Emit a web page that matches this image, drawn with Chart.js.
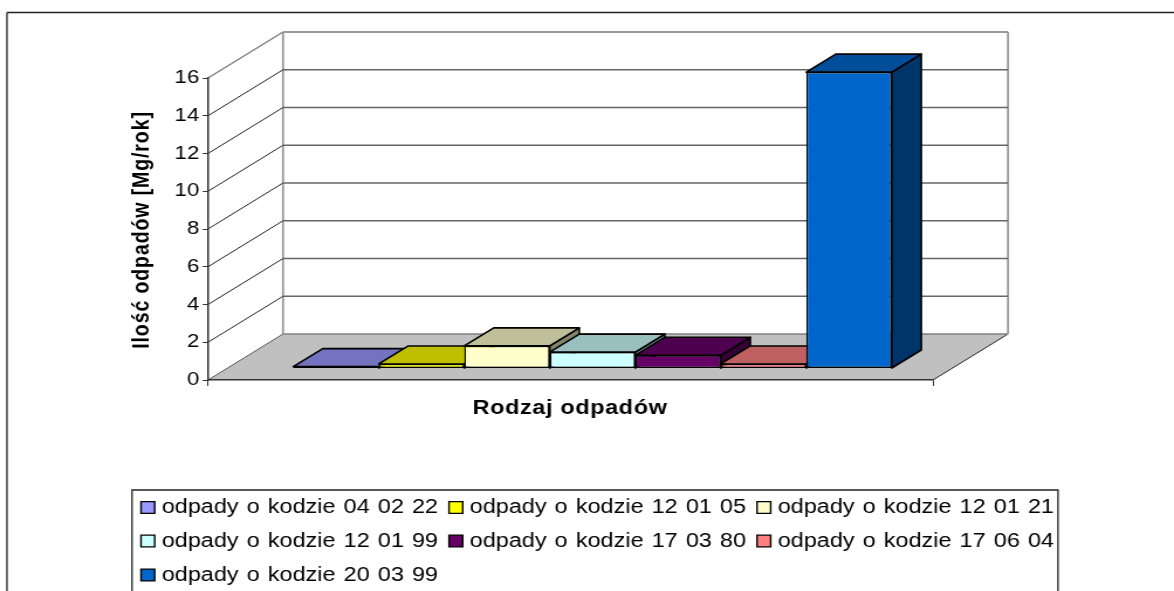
<!DOCTYPE html>
<html><head><meta charset="utf-8">
<style>html,body{margin:0;padding:0;background:#fff;overflow:hidden}#c{display:block;width:1174px!important;height:591px!important}</style>
<script src="https://cdn.jsdelivr.net/npm/chart.js@4"></script>
</head><body><canvas id="c" width="1003" height="591"></canvas>
<script>
const categoryLabels = ['Odpady'];
const seriesNames = ['odpady o kodzie 04 02 22','odpady o kodzie 12 01 05','odpady o kodzie 12 01 21','odpady o kodzie 12 01 99','odpady o kodzie 17 03 80','odpady o kodzie 17 06 04','odpady o kodzie 20 03 99'];
const seriesValues = [0.1, 0.24, 1.2, 0.87, 0.7, 0.24, 15.7];
const seriesColors = ['#9999FF','#FFFF00','#FFFFCC','#CCFFFF','#660066','#FF8080','#0066CC'];
const yTitle = 'Ilość odpadów [Mg/rok]';
const xTitle = 'Rodzaj odpadów';
const yMax = 16, yStep = 2;

// The canvas is drawn 1003 wide and shown 1174 wide, which gives the horizontally stretched look.
const S = 1174/1003;
const px = v => v/S;
const WALL = {dx:px(75), dy:-46};
const BAR_OFF = {dx:px(22), dy:-11.5};
const BAR_DEPTH = {dx:px(29.5), dy:-18};
const TOP_SHADE = 0.75, SIDE_SHADE = 0.52;
const LEGEND = {left:132,right:1058,top:490,cols:[141,449,757],rows:[507.5,541,575],textGap:20.7,box:13.7,boxH:11.7};

function shade(hex,f){
  const n=parseInt(hex.slice(1),16);
  return `rgb(${Math.round((n>>16&255)*f)},${Math.round((n>>8&255)*f)},${Math.round((n&255)*f)})`;
}
function poly(ctx,pts,fill,stroke,lw){
  ctx.beginPath();pts.forEach((p,i)=>i?ctx.lineTo(p[0],p[1]):ctx.moveTo(p[0],p[1]));ctx.closePath();
  if(fill){ctx.fillStyle=fill;ctx.fill();}
  if(stroke){ctx.strokeStyle=stroke;ctx.lineWidth=lw;ctx.lineJoin='round';ctx.stroke();}
}
function line(ctx,a,b,c,lw){ctx.beginPath();ctx.moveTo(a[0],a[1]);ctx.lineTo(b[0],b[1]);ctx.strokeStyle=c;ctx.lineWidth=lw;ctx.stroke();}

const pseudo3d = {
  id:'pseudo3d',
  beforeDraw(ch){
    const ctx=ch.ctx;
    const {x,y}=ch.scales; const L=x.left,R=x.right;
    const y0=y.getPixelForValue(0), yT=y.getPixelForValue(yMax);
    ctx.save();
    // frame (open on the right and cut by the bottom edge)
    line(ctx,[px(7),800],[px(7),12.5],'#222',1.3);
    line(ctx,[px(7),12.5],[ch.width,12.5],'#222',1.3);
    // floor
    poly(ctx,[[L,y0],[R,y0],[R+WALL.dx,y0+WALL.dy],[L+WALL.dx,y0+WALL.dy]],'#C0C0C0');
    line(ctx,[R,y0],[R+WALL.dx,y0+WALL.dy],'#222',1);
    // walls
    line(ctx,[L+WALL.dx,y0+WALL.dy],[R+WALL.dx,y0+WALL.dy],'#808080',1.6);
    line(ctx,[L+WALL.dx,yT+WALL.dy],[L+WALL.dx,y0+WALL.dy],'#999',1.8);
    line(ctx,[R+WALL.dx,yT+WALL.dy],[R+WALL.dx,y0+WALL.dy],'#999',1.8);
    y.ticks.forEach(t=>{
      const py=y.getPixelForValue(t.value);
      const top=t.value===yMax;
      if(t.value>0){
        line(ctx,[L,py],[L+WALL.dx,py+WALL.dy],top?'#808080':'#222',top?1.5:1);
        line(ctx,[L+WALL.dx,py+WALL.dy],[R+WALL.dx,py+WALL.dy],top?'#999':'#666',top?1.8:1.5);
      } else {
        line(ctx,[L,py],[L+WALL.dx,py+WALL.dy],'#555',1);
      }
    });
    ctx.restore();
  },
  beforeDatasetsDraw(ch){
    // draw the bars left to right so that each one overlaps the previous one
    const ctx=ch.ctx;
    ch.getSortedVisibleDatasetMetas().slice().sort((a,b)=>a.index-b.index).forEach(meta=>{
      ctx.save();
      ctx.translate(BAR_OFF.dx,BAR_OFF.dy);
      meta.controller.draw();
      const p=meta.data[0].getProps(['x','y','base','width'],true);
      const l=p.x-p.width/2,r=p.x+p.width/2,t=p.y,b=p.base;
      const dx=BAR_DEPTH.dx,dy=BAR_DEPTH.dy,c=seriesColors[meta.index];
      poly(ctx,[[r,t],[r+dx,t+dy],[r+dx,b+dy],[r,b]],shade(c,SIDE_SHADE),'#000',1.6);
      poly(ctx,[[l,t],[r,t],[r+dx,t+dy],[l+dx,t+dy]],shade(c,TOP_SHADE),'#000',1.6);
      ctx.restore();
    });
    return false;
  },
  afterDraw(ch){
    const ctx=ch.ctx;
    ctx.save();
    ctx.fillStyle='#000';ctx.textBaseline='middle';
    // x axis title
    ctx.font='bold 20px "Liberation Sans"';
    ctx.letterSpacing='0.55px';ctx.textAlign='center';
    ctx.fillText(xTitle,px(570),408);
    // y axis title
    ctx.save();
    ctx.translate(px(142),230);ctx.rotate(-Math.PI/2);
    ctx.font='bold 19.5px "Liberation Sans"';ctx.letterSpacing='0.9px';
    ctx.fillText(yTitle,0,0);
    ctx.restore();
    // legend
    ctx.letterSpacing='0px';ctx.wordSpacing='1.4px';ctx.textAlign='left';
    ctx.font='20px "Liberation Sans"';
    ctx.fillStyle='#fff';
    ctx.beginPath();ctx.rect(px(LEGEND.left),LEGEND.top,px(LEGEND.right-LEGEND.left),300);ctx.fill();
    ctx.strokeStyle='#222';ctx.lineWidth=1.3;ctx.stroke();
    seriesNames.forEach((n,i)=>{
      const cx=LEGEND.cols[i%3],cy=LEGEND.rows[Math.floor(i/3)];
      ctx.fillStyle=seriesColors[i];
      ctx.beginPath();ctx.rect(px(cx),cy-LEGEND.boxH/2,px(LEGEND.box),LEGEND.boxH);ctx.fill();
      ctx.strokeStyle='#000';ctx.lineWidth=1.4;ctx.stroke();
      ctx.fillStyle='#000';
      ctx.fillText(n,px(cx+LEGEND.textGap),cy);
    });
    ctx.restore();
  }
};

new Chart(document.getElementById('c'),{
  type:'bar',
  data:{
    labels:categoryLabels,
    datasets:seriesNames.map((n,i)=>({
      label:n,data:[seriesValues[i]],
      backgroundColor:seriesColors[i],borderColor:'#000',borderWidth:1.4,borderSkipped:false,
      clip:false,categoryPercentage:0.8255,barPercentage:1
    }))
  },
  plugins:[pseudo3d],
  options:{
    responsive:false,animation:false,
    layout:{padding:{left:px(132),right:px(1174-933),top:78,bottom:0}},
    plugins:{tooltip:{enabled:false},legend:{display:false}},
    scales:{
      x:{
        offset:true,
        ticks:{display:false},
        grid:{drawOnChartArea:false,drawTicks:true,tickLength:6,color:'#333',offset:true},
        border:{display:true,color:'#333',width:1.5},
        afterFit(s){s.height=211;}
      },
      y:{
        min:0,max:yMax,
        ticks:{stepSize:yStep,color:'#000',padding:3,font:{family:'"Liberation Sans"',size:19}},
        grid:{drawOnChartArea:false,drawTicks:true,tickLength:4.5,color:'#333'},
        border:{display:true,color:'#333',width:1.5},
        afterFit(s){s.width=px(208-132);}
      }
    }
  }
});
</script></body></html>
